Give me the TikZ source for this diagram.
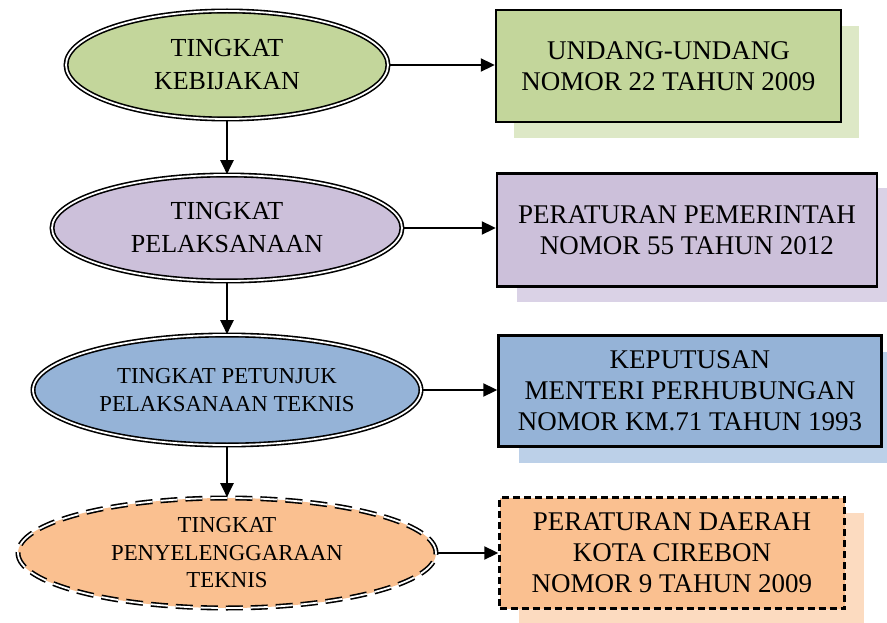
\documentclass[tikz,border=0pt]{standalone}
\usepackage{fontspec}
\setmainfont{Liberation Serif}
\usetikzlibrary{shapes.geometric,arrows.meta,shadows}
\definecolor{gA}{HTML}{C3D69B}\definecolor{gS}{HTML}{DDE8C6}
\definecolor{pA}{HTML}{CCC0DA}\definecolor{pS}{HTML}{DAD2E6}
\definecolor{bA}{HTML}{95B3D7}\definecolor{bS}{HTML}{BCD0E8}
\definecolor{oA}{HTML}{FAC090}\definecolor{oS}{HTML}{FCDBC0}
\begin{document}
\begin{tikzpicture}[x=1pt,y=-1pt,
  ell/.style={ellipse, draw, double, double distance=1.8pt, line width=1.6pt, inner sep=0pt, align=center},
  bigtxt/.style={font=\fontsize{26}{33}\selectfont},
  smalltxt/.style={font=\fontsize{22.8}{27.5}\selectfont},
  boxtxt/.style={font=\fontsize{27}{31}\selectfont},
  lawbox/.style={rectangle, draw, line width=2.4pt, inner sep=0pt, align=center},
  arr/.style={line width=2pt, -{Triangle[length=14pt,width=13pt]}}]
\useasboundingbox (0,0) rectangle (887,623);
% ellipses
\node[ell, bigtxt, fill=gA, minimum width=322pt, minimum height=108pt] (e1) at (227,65) {TINGKAT\\KEBIJAKAN};
\node[ell, bigtxt, fill=pA, minimum width=350pt, minimum height=106pt] (e2) at (227,228) {TINGKAT\\PELAKSANAAN};
\node[ell, smalltxt, fill=bA, minimum width=388pt, minimum height=110pt] (e3) at (227,390) {TINGKAT PETUNJUK\\PELAKSANAAN TEKNIS};
\node[ell, smalltxt, fill=oA, dash pattern=on 17pt off 8pt, minimum width=418pt, minimum height=110pt] (e4) at (227,553) {TINGKAT\\PENYELENGGARAAN\\TEKNIS};
% boxes
\node[lawbox, boxtxt, fill=gA, general shadow={fill=gS, shadow xshift=18pt, shadow yshift=-16pt}, minimum width=345pt, minimum height=112pt] (b1) at (668.5,66) {UNDANG-UNDANG\\NOMOR 22 TAHUN 2009};
\node[lawbox, boxtxt, fill=pA, general shadow={fill=pS, shadow xshift=20pt, shadow yshift=-15pt}, minimum width=380pt, minimum height=113pt] (b2) at (687,230) {PERATURAN PEMERINTAH\\NOMOR 55 TAHUN 2012};
\node[lawbox, boxtxt, fill=bA, general shadow={fill=bS, shadow xshift=20pt, shadow yshift=-16pt}, minimum width=383pt, minimum height=111pt] (b3) at (690,391) {KEPUTUSAN\\MENTERI PERHUBUNGAN\\NOMOR KM.71 TAHUN 1993};
\node[lawbox, boxtxt, fill=oA, dash pattern=on 7pt off 4pt, general shadow={fill=oS, shadow xshift=19pt, shadow yshift=-15pt}, minimum width=345pt, minimum height=111pt] (b4) at (672,553) {PERATURAN DAERAH\\KOTA CIREBON\\NOMOR 9 TAHUN 2009};
% connectors
\draw[arr] (e1.south) -- (e2.north);
\draw[arr] (e2.south) -- (e3.north);
\draw[arr] (e3.south) -- (e4.north);
\draw[arr] (e1.east) -- (e1.east -| b1.west);
\draw[arr] (e2.east) -- (e2.east -| b2.west);
\draw[arr] (e3.east) -- (e3.east -| b3.west);
\draw[arr] (e4.east) -- (e4.east -| b4.west);
\end{tikzpicture}
\end{document}
